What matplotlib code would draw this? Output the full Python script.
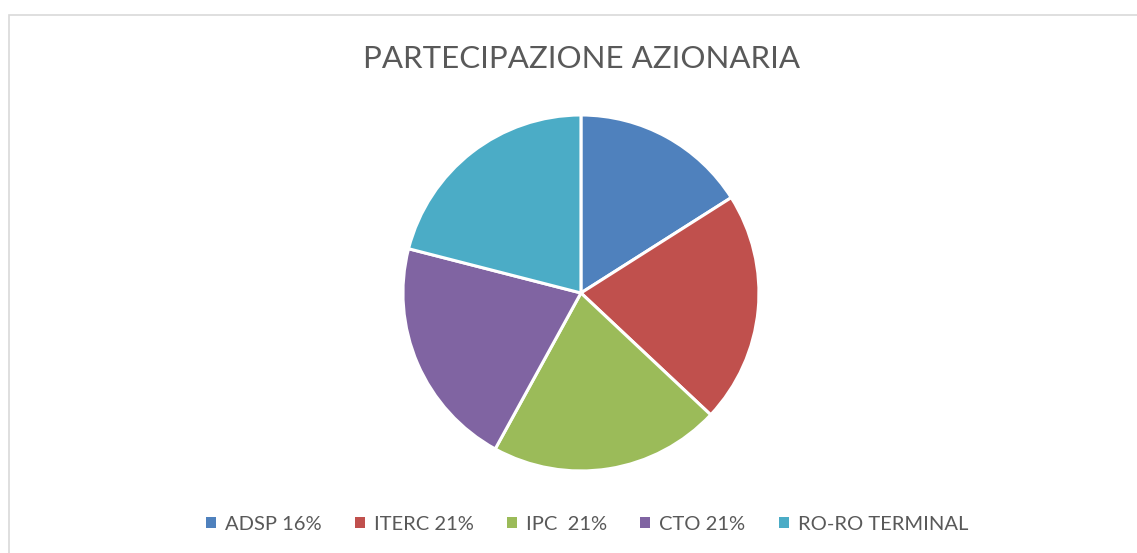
import matplotlib
matplotlib.use("Agg")
import matplotlib.pyplot as plt
from matplotlib.patches import Rectangle

# data
labels = ["ADSP 16%", "ITERC 21%", "IPC  21%", "CTO 21%", "RO-RO TERMINAL"]
shares = [16, 21, 21, 21, 21]
colors = ["#4F81BD", "#C0504D", "#9BBB59", "#8064A2", "#4BACC6"]
title = "PARTECIPAZIONE AZIONARIA"

plt.rcParams["font.family"] = ["Lato", "DejaVu Sans"]

fig = plt.figure(figsize=(11.37, 5.53), dpi=100)

# light chart-area border (runs off the right and bottom edges)
fig.patches.append(Rectangle((9 / 1137, -0.05), 1.2, 1 - 15 / 553 + 0.05,
                             transform=fig.transFigure, fill=False,
                             edgecolor="#D9D9D9", linewidth=1.2))

ax = fig.add_axes([0.3544, 0.1483, 0.3131, 0.6438])
wedges, _ = ax.pie(shares, colors=colors, startangle=90, counterclock=False,
                   wedgeprops=dict(edgecolor="white", linewidth=2.2))
ax.set_xlim(-1, 1)
ax.set_ylim(-1, 1)
ax.set_aspect("equal")
ax.axis("off")

fig.text(0.511, 1 - 59 / 553, title, ha="center", va="center",
         fontsize=22.5, color="#595959")

leg = fig.legend(wedges, labels, loc="center", bbox_to_anchor=(587 / 1137, 1 - 524 / 553),
                 ncol=5, frameon=False, fontsize=14.5, handlelength=0.5,
                 handleheight=0.5, handletextpad=0.45, columnspacing=1.65,
                 labelcolor="#595959")
for h in leg.legend_handles:
    h.set_linewidth(0)

fig.savefig("out.png", dpi=100)
